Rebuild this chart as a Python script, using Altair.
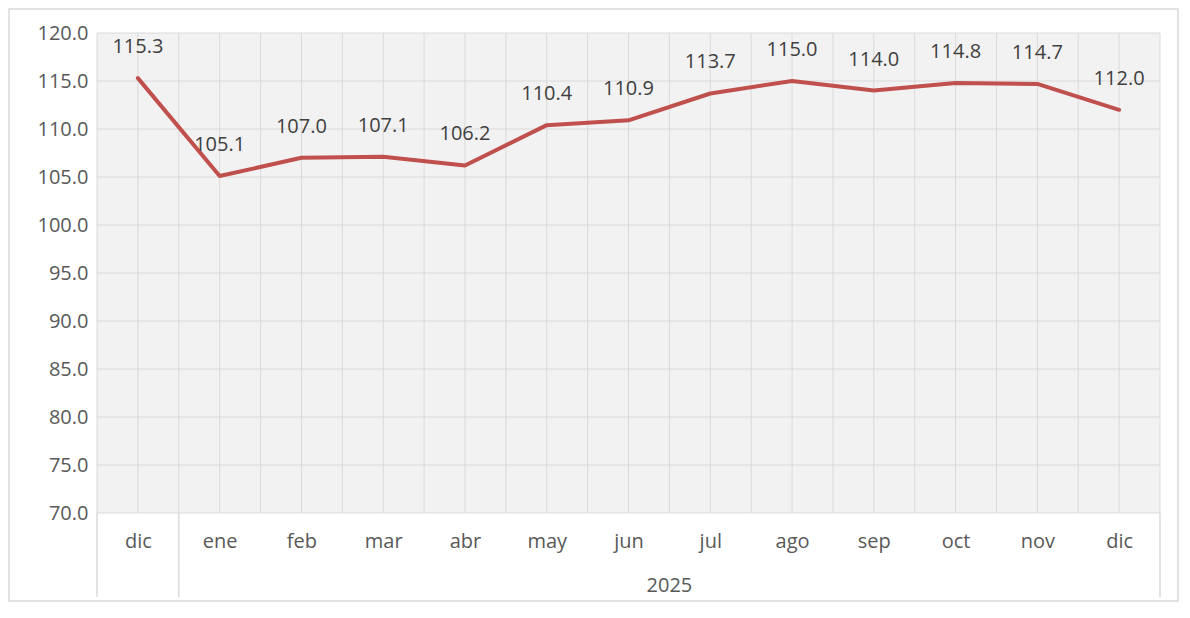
import altair as alt
import pandas as pd
import numpy as np

months = ["dic", "ene", "feb", "mar", "abr", "may", "jun", "jul", "ago", "sep", "oct", "nov", "dic"]
values = [115.3, 105.1, 107.0, 107.1, 106.2, 110.4, 110.9, 113.7, 115.0, 114.0, 114.8, 114.7, 112.0]
group_label = "2025"
group_start = 1  # index of first month in the 2025 group
y_ticks = [70, 75, 80, 85, 90, 95, 100, 105, 110, 115, 120]

W, H = 1063, 480
FONT = "Open Sans"
FS = 20
TXT = "#595959"
GRID = "#DADADA"

n = len(months)
df = pd.DataFrame({"i": list(range(n)), "v": values, "lab": [f"{v:.1f}" for v in values]})

xscale = alt.Scale(domain=[-0.5, n - 0.5], nice=False, zero=False)
yscale = alt.Scale(domain=[y_ticks[0], y_ticks[-1]], nice=False, zero=False)

label_expr = "[" + ",".join(f"'{m}'" for m in months) + "][datum.value]"
x_axis = alt.Axis(values=list(range(n)), labelExpr=label_expr, labelFontSize=FS, labelColor=TXT,
                  labelFont=FONT, ticks=False, domain=False, grid=False, labelPadding=18, title=None)
y_axis = alt.Axis(values=y_ticks, format=".1f", labelFontSize=FS, labelColor=TXT, labelFont=FONT,
                  ticks=False, domain=False, grid=False, labelPadding=9, title=None)

one = pd.DataFrame({"a": [0]})

bg = alt.Chart(one).mark_rect(fill="#F2F2F2", strokeWidth=0).encode(
    x=alt.value(0), x2=alt.value(W), y=alt.value(0), y2=alt.value(H)
)

hgrid = alt.Chart(pd.DataFrame({"v": y_ticks})).mark_rule(color=GRID, strokeWidth=1).encode(
    y=alt.Y("v:Q", scale=yscale, axis=y_axis)
)

half_steps = list(np.arange(-0.5, n, 0.5))
vgrid = alt.Chart(pd.DataFrame({"x": half_steps})).mark_rule(color=GRID, strokeWidth=1).encode(
    x=alt.X("x:Q", scale=xscale, axis=x_axis), y=alt.value(0), y2=alt.value(H)
)

line = alt.Chart(df).mark_line(color="#C0504D", strokeWidth=4, strokeJoin="round", strokeCap="round").encode(
    x=alt.X("i:Q", scale=xscale),
    y=alt.Y("v:Q", scale=yscale),
)

labels = alt.Chart(df).mark_text(font=FONT, fontSize=FS, color="#404040", dy=-31).encode(
    x=alt.X("i:Q", scale=xscale), y=alt.Y("v:Q", scale=yscale), text="lab:N"
)

seps = [-0.5, group_start - 0.5, n - 0.5]
sep_rules = alt.Chart(pd.DataFrame({"x": seps})).mark_rule(color=GRID, strokeWidth=1.5).encode(
    x=alt.X("x:Q", scale=xscale), y=alt.value(H), y2=alt.value(H + 84)
)

grp = alt.Chart(pd.DataFrame({"x": [(group_start + n - 1) / 2], "t": [group_label]})).mark_text(
    font=FONT, fontSize=FS, color=TXT, baseline="middle"
).encode(x=alt.X("x:Q", scale=xscale), y=alt.value(H + 73), text="t:N")

border = alt.Chart(one).mark_rect(fill=None, stroke="#D9D9D9", strokeWidth=1.5).encode(
    x=alt.value(-88), x2=alt.value(W + 18), y=alt.value(-24), y2=alt.value(H + 88)
)

chart = alt.layer(bg, hgrid, vgrid, sep_rules, line, labels, grp, border).properties(
    width=W, height=H,
    autosize=alt.AutoSizeParams(type="none"),
    padding={"left": 89, "top": 25, "right": 20, "bottom": 90},
    background="white",
).configure_view(stroke=None)

chart.save("out.html", embed_options={"renderer": "svg", "actions": False})
